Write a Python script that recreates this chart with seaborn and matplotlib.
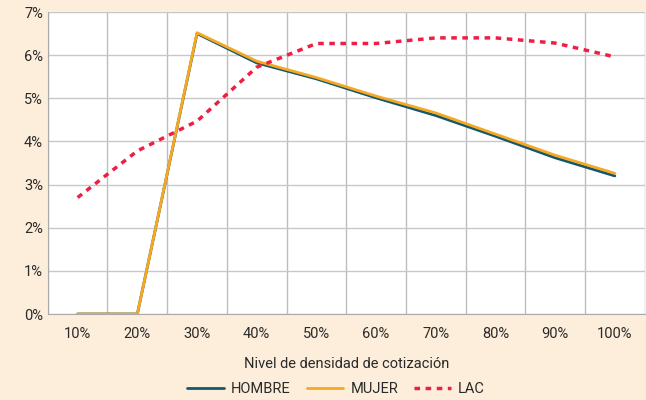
import numpy as np
import pandas as pd
import matplotlib.pyplot as plt
import seaborn as sns
from matplotlib.ticker import FixedLocator, PercentFormatter

niveles = ["10%", "20%", "30%", "40%", "50%", "60%", "70%", "80%", "90%", "100%"]
hombre = [0.0, 0.0, 6.50, 5.82, 5.45, 5.01, 4.60, 4.12, 3.62, 3.20]
mujer = [0.0, 0.0, 6.52, 5.86, 5.48, 5.05, 4.66, 4.17, 3.68, 3.26]
lac = [2.70, 3.78, 4.47, 5.72, 6.27, 6.27, 6.40, 6.40, 6.28, 5.96]

bg = "#FDEEDB"
sns.set_style("white")
plt.rcParams["font.family"] = ["Roboto", "DejaVu Sans"]

pos = np.arange(len(niveles))
df = pd.DataFrame({"pos": pos, "HOMBRE": hombre, "MUJER": mujer, "LAC": lac})

fig = plt.figure(figsize=(6.46, 4.0), dpi=100, facecolor=bg)
ax = fig.add_axes([0.074, 0.215, 0.924, 0.755])
ax.set_facecolor("white")

sns.lineplot(data=df, x="pos", y="HOMBRE", ax=ax, color="#14586E", lw=2, label="HOMBRE")
sns.lineplot(data=df, x="pos", y="MUJER", ax=ax, color="#F7A823", lw=2, label="MUJER")
sns.lineplot(data=df, x="pos", y="LAC", ax=ax, color="#EE1F45", lw=2.5,
             linestyle=(0, (2.2, 1.6)), label="LAC")

ax.set_xlim(-0.5, len(niveles) - 0.5)
ax.set_ylim(0, 7)
ax.set_xticks(pos)
ax.set_xticklabels(niveles)
ax.xaxis.set_minor_locator(FixedLocator(np.arange(-0.5, len(niveles), 1)))
ax.set_yticks(np.arange(0, 8, 1))
ax.yaxis.set_major_formatter(PercentFormatter(decimals=0))
ax.grid(True, which="minor", axis="x", color="#BDBDBD", lw=1)
ax.grid(True, which="major", axis="y", color="#C8C8C8", lw=1)
ax.tick_params(axis="both", which="both", length=0, labelsize=10.5, colors="#2A2A2A")
ax.tick_params(axis="x", pad=9)
for s in ["top", "right"]:
    ax.spines[s].set_visible(False)
for s in ["left", "bottom"]:
    ax.spines[s].set_color("#AAAAAA")
ax.set_xlabel("Nivel de densidad de cotización", fontsize=10.5, color="#2A2A2A", labelpad=12)
ax.set_ylabel("")

ax.get_legend().remove()
handles, labels = ax.get_legend_handles_labels()
handles[2].set_linestyle((0, (1.6, 1.6)))
fig.legend(handles, labels, loc="center", bbox_to_anchor=(0.52, 0.027), ncol=3,
           frameon=False, fontsize=10.5, handlelength=2.5, columnspacing=1.1,
           handletextpad=0.5, labelcolor="#2A2A2A")

fig.savefig("out.png", dpi=100, facecolor=bg)
